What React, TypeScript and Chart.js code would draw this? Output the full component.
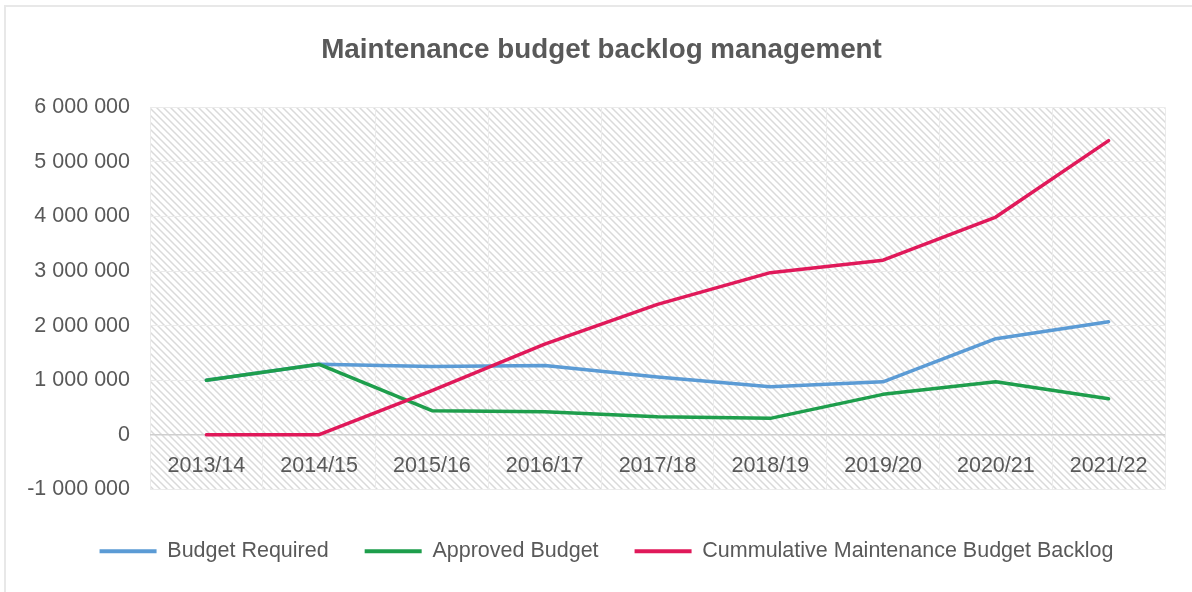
import React, { useEffect, useRef } from 'react';
import { Chart, registerables } from 'chart.js';

Chart.register(...registerables);

const chartTitle = 'Maintenance budget backlog management';
const categories = ['2013/14', '2014/15', '2015/16', '2016/17', '2017/18', '2018/19', '2019/20', '2020/21', '2021/22'];
const budgetRequired = [1000000, 1290000, 1250000, 1270000, 1060000, 880000, 970000, 1760000, 2070000];
const approvedBudget = [1000000, 1290000, 440000, 420000, 330000, 300000, 740000, 970000, 660000];
const cumulativeBacklog = [0, 0, 810000, 1660000, 2390000, 2970000, 3200000, 3990000, 5390000];
const seriesNames = ['Budget Required', 'Approved Budget', 'Cummulative Maintenance Budget Backlog'];
const seriesColors = ['#5B9BD5', '#1E9E4C', '#E0195A'];
const yMin = -1000000;
const yMax = 6000000;
const yStep = 1000000;

const FONT = "'Liberation Sans', Arial, sans-serif";
const TEXT = '#595959';

function formatNumber(v: number): string {
  const s = Math.abs(v).toFixed(0).replace(/\B(?=(\d{3})+(?!\d))/g, ' ');
  return (v < 0 ? '-' : '') + s;
}

function makeHatch(): CanvasPattern | string {
  const size = 7;
  const c = document.createElement('canvas');
  c.width = size;
  c.height = size;
  const g = c.getContext('2d');
  if (!g) return '#f2f2f2';
  g.fillStyle = '#ffffff';
  g.fillRect(0, 0, size, size);
  g.strokeStyle = '#dadada';
  g.lineWidth = 1.5;
  g.beginPath();
  for (const k of [-size, 0, size]) {
    g.moveTo(-1, -1 + k);
    g.lineTo(size + 1, size + 1 + k);
  }
  g.stroke();
  const p = g.createPattern(c, 'repeat');
  return p || '#f2f2f2';
}

const hatchPlugin = {
  id: 'hatchBg',
  beforeDraw(chart: any) {
    const { ctx, chartArea } = chart;
    if (!chartArea) return;
    ctx.save();
    ctx.fillStyle = makeHatch();
    ctx.fillRect(chartArea.left, chartArea.top, chartArea.right - chartArea.left, chartArea.bottom - chartArea.top);
    ctx.restore();
  },
};

// nudges the full-width title and legend boxes so they centre like the original
const centerShiftPlugin = {
  id: 'centerShift',
  afterLayout(chart: any) {
    if (chart.titleBlock) {
      chart.titleBlock.left += 7;
      chart.titleBlock.right += 7;
    }
    if (chart.legend) {
      chart.legend.left += 12;
      chart.legend.right += 12;
    }
  },
};

export default function App() {
  const canvasRef = useRef<HTMLCanvasElement | null>(null);

  useEffect(() => {
    if (!canvasRef.current) return;
    const seriesData = [budgetRequired, approvedBudget, cumulativeBacklog];
    const chart = new Chart(canvasRef.current, {
      type: 'line',
      data: {
        labels: categories,
        datasets: seriesData.map((d, i) => ({
          label: seriesNames[i],
          data: d,
          borderColor: seriesColors[i],
          backgroundColor: seriesColors[i],
          borderWidth: 3.5,
          pointRadius: 0,
          tension: 0,
          fill: false,
          borderJoinStyle: 'round' as const,
          borderCapStyle: 'round' as const,
          order: 2 - i,
        })),
      },
      options: {
        animation: false,
        responsive: true,
        maintainAspectRatio: false,
        events: [],
        layout: { padding: { left: 24, right: 27, top: 30, bottom: 20 } },
        scales: {
          x: {
            type: 'category',
            position: { y: 0 } as any,
            offset: true,
            grid: { display: true, color: '#ebebeb', lineWidth: 1, drawTicks: false, offset: true },
            border: { display: false },
            ticks: { color: TEXT, font: { family: FONT, size: 21.5 }, padding: 18, maxRotation: 0, autoSkip: false },
          },
          y: {
            min: yMin,
            max: yMax,
            afterFit: (scale: any) => {
              scale.width = 126;
            },
            grid: {
              color: (c: any) => (c.tick && c.tick.value === 0 ? '#cfcfcf' : '#ebebeb'),
              lineWidth: (c: any) => (c.tick && c.tick.value === 0 ? 1.5 : 1),
              drawTicks: false,
            },
            border: { display: false },
            ticks: {
              stepSize: yStep,
              color: TEXT,
              font: { family: FONT, size: 21.5 },
              padding: 20,
              callback: (v: any) => formatNumber(Number(v)),
            },
          },
        },
        plugins: {
          title: {
            display: true,
            text: chartTitle,
            color: TEXT,
            font: { family: FONT, size: 27.8, weight: 'bold' },
            padding: { top: 4, bottom: 40 },
          },
          legend: {
            position: 'bottom',
            title: { display: true, text: '', font: { size: 1 }, padding: { top: 14, bottom: 0 } },
            labels: {
              boxWidth: 57,
              boxHeight: 4,
              padding: 36,
              color: TEXT,
              font: { family: FONT, size: 21.5 },
              sort: (a: any, b: any) => a.datasetIndex - b.datasetIndex,
              generateLabels: () =>
                seriesNames.map((n, i) => ({
                  text: n,
                  fillStyle: seriesColors[i],
                  strokeStyle: seriesColors[i],
                  lineWidth: 0,
                  fontColor: TEXT,
                  hidden: false,
                  datasetIndex: i,
                })),
            },
          },
          tooltip: { enabled: false },
        },
      },
      plugins: [hatchPlugin, centerShiftPlugin],
    });
    return () => chart.destroy();
  }, []);

  return (
    <div style={{ position: 'fixed', left: 0, top: 0, width: 1192, height: 592, background: '#ffffff', overflow: 'hidden' }}>
      <div
        style={{
          position: 'absolute',
          left: 4,
          top: 5,
          width: 1300,
          height: 700,
          borderLeft: '2px solid #e8e8e8',
          borderTop: '2px solid #e8e8e8',
        }}
      />
      <div style={{ position: 'absolute', left: 0, top: 0, width: 1192, height: 592 }}>
        <canvas ref={canvasRef} />
      </div>
    </div>
  );
}
